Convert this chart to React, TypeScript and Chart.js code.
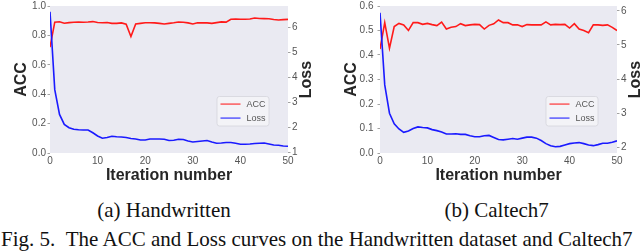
import React, { useEffect, useRef } from "react";
import { Chart, registerables } from "chart.js";

Chart.register(...registerables);

// ---------------- data ----------------
const ITERATIONS = [
  0, 1, 2, 3, 4, 5, 6, 7, 8, 9, 10, 11, 12, 13, 14, 15, 16, 17, 18, 19, 20,
  21, 22, 23, 24, 25, 26, 27, 28, 29, 30, 31, 32, 33, 34, 35, 36, 37, 38, 39,
  40, 41, 42, 43, 44, 45, 46, 47, 48, 49, 50,
];

const HW_ACC = [
  0.72, 0.89, 0.893, 0.883, 0.887, 0.889, 0.891, 0.889, 0.891, 0.894, 0.888,
  0.886, 0.888, 0.882, 0.882, 0.885, 0.876, 0.792, 0.878, 0.882, 0.886, 0.886,
  0.885, 0.882, 0.878, 0.882, 0.886, 0.891, 0.889, 0.885, 0.878, 0.886, 0.885,
  0.885, 0.882, 0.887, 0.892, 0.89, 0.91, 0.912, 0.91, 0.91, 0.912, 0.918,
  0.915, 0.914, 0.913, 0.908, 0.905, 0.907, 0.909,
];

const HW_LOSS = [
  6.62, 3.51, 2.52, 2.12, 1.99, 1.93, 1.91, 1.9, 1.9, 1.79, 1.66, 1.57, 1.6,
  1.65, 1.63, 1.62, 1.6, 1.56, 1.54, 1.5, 1.5, 1.54, 1.54, 1.54, 1.53, 1.48,
  1.49, 1.53, 1.52, 1.46, 1.42, 1.44, 1.46, 1.48, 1.42, 1.37, 1.38, 1.4, 1.4,
  1.37, 1.33, 1.33, 1.34, 1.36, 1.37, 1.38, 1.34, 1.3, 1.29, 1.26, 1.25,
];

const CT_ACC = [
  0.424, 0.532, 0.428, 0.516, 0.529, 0.523, 0.5, 0.532, 0.532, 0.525, 0.529,
  0.524, 0.52, 0.534, 0.506, 0.513, 0.516, 0.528, 0.52, 0.523, 0.525, 0.524,
  0.506, 0.521, 0.527, 0.543, 0.532, 0.532, 0.523, 0.523, 0.516, 0.524, 0.523,
  0.523, 0.523, 0.535, 0.523, 0.525, 0.524, 0.525, 0.51, 0.528, 0.506, 0.5,
  0.491, 0.523, 0.523, 0.521, 0.523, 0.513, 0.5,
];

const CT_LOSS = [
  5.94, 3.83, 3.0, 2.69, 2.54, 2.44, 2.48, 2.55, 2.6, 2.58, 2.57, 2.52, 2.49,
  2.45, 2.39, 2.39, 2.4, 2.38, 2.38, 2.34, 2.31, 2.31, 2.34, 2.35, 2.29, 2.23,
  2.22, 2.24, 2.26, 2.24, 2.27, 2.3, 2.3, 2.27, 2.2, 2.11, 2.05, 2.02, 2.03,
  2.07, 2.11, 2.13, 2.14, 2.11, 2.07, 2.05, 2.08, 2.12, 2.12, 2.15, 2.19,
];

const X_TICKS = [0, 10, 20, 30, 40, 50];
const HW_ACC_TICKS = [0, 0.2, 0.4, 0.6, 0.8, 1.0];
const HW_LOSS_TICKS = [1, 2, 3, 4, 5, 6];
const CT_ACC_TICKS = [0, 0.1, 0.2, 0.3, 0.4, 0.5, 0.6];
const CT_LOSS_TICKS = [2, 3, 4, 5, 6];

const SERIES_NAMES = ["ACC", "Loss"];
const SERIES_COLORS = ["#ff1a1a", "#1a1aff"];
const X_TITLE = "Iteration number";
const CAPTION_A = "(a) Handwritten";
const CAPTION_B = "(b) Caltech7";
const FIG_CAPTION =
  "Fig. 5.\u00a0\u00a0The ACC and Loss curves on the Handwritten dataset and Caltech7";

// ---------------- styling ----------------
const SANS = "'Liberation Sans', Arial, sans-serif";
const SERIF = "'Liberation Serif', 'Times New Roman', serif";
const TICK_COLOR = "#555555";
const TITLE_COLOR = "#262626";
const PLOT_BG = "#EAEAF2";

const extrasPlugin = {
  id: "extras",
  beforeDraw(chart: any) {
    const { ctx, chartArea: a } = chart;
    ctx.save();
    ctx.fillStyle = PLOT_BG;
    ctx.fillRect(a.left, a.top, a.right - a.left, a.bottom - a.top);
    ctx.restore();
  },
  afterDraw(chart: any, _args: any, opts: any) {
    const { ctx, chartArea: a } = chart;
    // right axis title (reads bottom-to-top like the reference)
    ctx.save();
    ctx.translate(opts.rightTitleX, (a.top + a.bottom) / 2);
    ctx.rotate(-Math.PI / 2);
    ctx.font = `bold 16px ${SANS}`;
    ctx.fillStyle = TITLE_COLOR;
    ctx.textAlign = "center";
    ctx.textBaseline = "middle";
    ctx.fillText(opts.rightTitle, 0, 0);
    ctx.restore();

    // legend box (lower right inside plot)
    const w = 52;
    const h = 29.5;
    const x = a.right - 19 - w;
    const y = a.bottom - 27 - h;
    ctx.save();
    ctx.beginPath();
    const r = 2.5;
    ctx.moveTo(x + r, y);
    ctx.lineTo(x + w - r, y);
    ctx.quadraticCurveTo(x + w, y, x + w, y + r);
    ctx.lineTo(x + w, y + h - r);
    ctx.quadraticCurveTo(x + w, y + h, x + w - r, y + h);
    ctx.lineTo(x + r, y + h);
    ctx.quadraticCurveTo(x, y + h, x, y + h - r);
    ctx.lineTo(x, y + r);
    ctx.quadraticCurveTo(x, y, x + r, y);
    ctx.closePath();
    ctx.fillStyle = "rgba(244,244,248,0.85)";
    ctx.fill();
    ctx.strokeStyle = "#d4d4dc";
    ctx.lineWidth = 0.8;
    ctx.stroke();
    chart.data.datasets.forEach((ds: any, i: number) => {
      const ly = y + 7.6 + 14 * i;
      ctx.beginPath();
      ctx.moveTo(x + 3.5, ly);
      ctx.lineTo(x + 23.5, ly);
      ctx.strokeStyle = ds.borderColor;
      ctx.globalAlpha = 0.7;
      ctx.lineWidth = 1.5;
      ctx.stroke();
      ctx.globalAlpha = 1;
      ctx.font = `9px ${SANS}`;
      ctx.fillStyle = TICK_COLOR;
      ctx.textAlign = "left";
      ctx.textBaseline = "middle";
      ctx.fillText(ds.label, x + 29.5, ly);
    });
    ctx.restore();
  },
};

type PanelProps = {
  acc: number[];
  loss: number[];
  accTicks: number[];
  lossTicks: number[];
  accMax: number;
  lossMin: number;
  lossMax: number;
  leftWidth: number;
  rightWidth: number;
  leftTitlePad: number;
  leftTickPad: number;
  rightTitleX: number;
};

function Panel(p: PanelProps) {
  const ref = useRef<HTMLCanvasElement | null>(null);
  useEffect(() => {
    if (!ref.current) return;
    const yTickGrid = {
      display: true,
      drawOnChartArea: false,
      drawTicks: true,
      tickLength: 2.5,
      color: "#8a8a8a",
      lineWidth: 0.8,
    };
    const chart = new Chart(ref.current, {
      type: "line",
      data: {
        datasets: [
          {
            label: SERIES_NAMES[0],
            data: ITERATIONS.map((it, i) => ({ x: it, y: p.acc[i] })),
            borderColor: SERIES_COLORS[0],
            borderWidth: 1.6,
            pointRadius: 0,
            tension: 0,
            yAxisID: "y",
            order: 1,
          },
          {
            label: SERIES_NAMES[1],
            data: ITERATIONS.map((it, i) => ({ x: it, y: p.loss[i] })),
            borderColor: SERIES_COLORS[1],
            borderWidth: 1.6,
            pointRadius: 0,
            tension: 0,
            yAxisID: "y1",
            order: 0,
          },
        ],
      },
      options: {
        responsive: false,
        animation: false,
        layout: { padding: { top: 6, left: 0, right: 0, bottom: 0 } },
        plugins: {
          legend: { display: false },
          tooltip: { enabled: false },
          extras: { rightTitle: SERIES_NAMES[1], rightTitleX: p.rightTitleX },
        } as any,
        scales: {
          x: {
            type: "linear",
            min: 0,
            max: 50,
            afterBuildTicks: (s: any) => {
              s.ticks = X_TICKS.map((v) => ({ value: v }));
            },
            ticks: {
              color: TICK_COLOR,
              font: { family: SANS, size: 10 },
              padding: 2.2,
              maxRotation: 0,
            },
            grid: { display: false, drawTicks: false, tickLength: 0 },
            border: { display: false },
            title: {
              display: true,
              text: X_TITLE,
              color: TITLE_COLOR,
              font: { family: SANS, size: 16, weight: "bold" },
              padding: { top: 0, bottom: 4.9 },
            },
            afterFit: (s: any) => {
              s.height = 37;
              s.paddingLeft = 0;
              s.paddingRight = 0;
            },
          },
          y: {
            type: "linear",
            position: "left",
            min: 0,
            max: p.accMax,
            afterBuildTicks: (s: any) => {
              s.ticks = p.accTicks.map((v) => ({ value: v }));
            },
            ticks: {
              color: TICK_COLOR,
              font: { family: SANS, size: 10 },
              padding: p.leftTickPad,
              callback: (v: any) => Number(v).toFixed(1),
            },
            grid: yTickGrid,
            border: { display: false },
            title: {
              display: true,
              text: SERIES_NAMES[0],
              color: TITLE_COLOR,
              font: { family: SANS, size: 16, weight: "bold" },
              padding: { top: p.leftTitlePad, bottom: 0 },
            },
            afterFit: (s: any) => {
              s.width = p.leftWidth;
              s.paddingTop = 0;
              s.paddingBottom = 0;
            },
          },
          y1: {
            type: "linear",
            position: "right",
            min: p.lossMin,
            max: p.lossMax,
            afterBuildTicks: (s: any) => {
              s.ticks = p.lossTicks.map((v) => ({ value: v }));
            },
            ticks: {
              color: TICK_COLOR,
              font: { family: SANS, size: 10 },
              padding: 1.5,
              callback: (v: any) => String(v),
            },
            grid: yTickGrid,
            border: { display: false },
            afterFit: (s: any) => {
              s.width = p.rightWidth;
              s.paddingTop = 0;
              s.paddingBottom = 0;
            },
          },
        },
      } as any,
      plugins: [extrasPlugin as any],
    });
    return () => chart.destroy();
  }, []);
  return <canvas ref={ref} width={320} height={190} style={{ display: "block" }} />;
}

export default function App() {
  const capStyle: React.CSSProperties = {
    position: "absolute",
    fontFamily: SERIF,
    fontSize: "21px",
    lineHeight: "21px",
    color: "#111",
    whiteSpace: "pre",
  };
  return (
    <div
      style={{
        position: "fixed",
        left: 0,
        top: 0,
        width: 640,
        height: 252,
        background: "#ffffff",
        overflow: "hidden",
      }}
    >
      <div style={{ position: "absolute", left: 0, top: 0 }}>
        <Panel
          acc={HW_ACC}
          loss={HW_LOSS}
          accTicks={HW_ACC_TICKS}
          lossTicks={HW_LOSS_TICKS}
          accMax={1.0}
          lossMin={0.98}
          lossMax={6.85}
          leftWidth={50}
          rightWidth={32}
          leftTitlePad={12}
          leftTickPad={1.5}
          rightTitleX={306.3}
        />
      </div>
      <div style={{ position: "absolute", left: 320, top: 0 }}>
        <Panel
          acc={CT_ACC}
          loss={CT_LOSS}
          accTicks={CT_ACC_TICKS}
          lossTicks={CT_LOSS_TICKS}
          accMax={0.6}
          lossMin={1.835}
          lossMax={6.14}
          leftWidth={60}
          rightWidth={23}
          leftTitlePad={22}
          leftTickPad={4}
          rightTitleX={316}
        />
      </div>
      <div style={{ ...capStyle, left: 4, top: 200, width: 320, textAlign: "center" }}>
        {CAPTION_A}
      </div>
      <div style={{ ...capStyle, left: 336.7, top: 200, width: 320, textAlign: "center" }}>
        {CAPTION_B}
      </div>
      <div style={{ ...capStyle, left: 1, top: 229 }}>{FIG_CAPTION}</div>
    </div>
  );
}
